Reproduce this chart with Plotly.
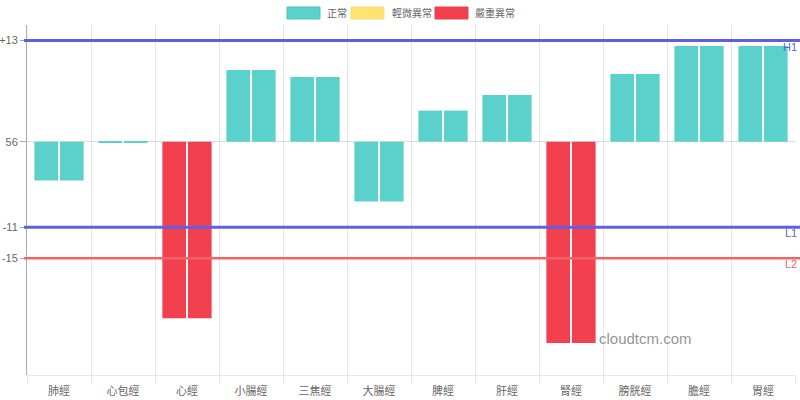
import plotly.graph_objects as go

categories = ["肺經", "心包經", "心經", "小腸經", "三焦經", "大腸經", "脾經", "肝經", "腎經", "膀胱經", "膽經", "胃經"]
left_values = [-5.0, -0.15, -22.7, 9.2, 8.3, -7.7, 4.0, 6.0, -25.9, 8.7, 12.3, 12.3]
right_values = [-5.0, -0.15, -22.7, 9.2, 8.3, -7.7, 4.0, 6.0, -25.9, 8.7, 12.3, 12.3]
status = ["正常", "正常", "嚴重異常", "正常", "正常", "正常", "正常", "正常", "嚴重異常", "正常", "正常", "正常"]
status_names = ["正常", "輕微異常", "嚴重異常"]
status_colors = {"正常": "#5AD2CB", "輕微異常": "#FFE36E", "嚴重異常": "#F3404E"}
status_borders = {"正常": "#4CC3BC", "輕微異常": "#F2DC8A", "嚴重異常": "#E8404E"}
tick_vals = [13, 0, -11, -15]
tick_text = ["+13", "56", "-11", "-15"]
ref_lines = [("H1", 13, "#5F5FE6", 3), ("L1", -11, "#5F5FE6", 3), ("L2", -15, "#F26464", 2.5)]

# plot area in pixels (for legend placement in paper coords)
PL, PR, PT, PB = 27, 795, 25, 375
def px_x(p):
    return (p - PL) / (PR - PL)
def px_y(p):
    return (PB - p) / (PB - PT)

colors = [status_colors[s] for s in status]
fig = go.Figure()
for vals, off in [(left_values, -0.385), (right_values, 0.015)]:
    fig.add_trace(go.Bar(x=categories, y=vals, marker=dict(color=colors, line=dict(width=0)),
                         width=0.37, offset=off, showlegend=False, hoverinfo="y"))

# custom legend (wide boxes like the reference)
legend_boxes = [(287, 320, 325), (351, 384, 390), (435, 468, 473)]
for name, (bx0, bx1, tx) in zip(status_names, legend_boxes):
    fig.add_shape(type="rect", xref="paper", yref="paper", x0=px_x(bx0), x1=px_x(bx1),
                  y0=px_y(19), y1=px_y(7), fillcolor=status_colors[name],
                  line=dict(color=status_borders[name], width=1))
    fig.add_annotation(xref="paper", yref="paper", x=px_x(tx), y=px_y(13), text=name,
                       showarrow=False, xanchor="left", yanchor="middle",
                       font=dict(size=10, color="#666"))

for name, val, col, w in ref_lines:
    fig.add_shape(type="line", xref="paper", yref="y", x0=px_x(24), x1=px_x(800), y0=val, y1=val,
                  line=dict(color=col, width=w))
    fig.add_annotation(xref="paper", yref="y", x=px_x(799), y=val, text=name, showarrow=False,
                       xanchor="right", yanchor="top", font=dict(size=11, color=col), yshift=2)

fig.add_annotation(xref="paper", yref="y", x=px_x(597), y=-25.3, text="cloudtcm.com", showarrow=False,
                   xanchor="left", yanchor="middle", font=dict(size=15, color="rgba(110,110,110,0.75)"))

fig.update_layout(
    width=800, height=400,
    margin=dict(l=PL, r=800 - PR, t=PT, b=400 - PB, autoexpand=False),
    paper_bgcolor="white", plot_bgcolor="white",
    barmode="overlay", showlegend=False,
    font=dict(family="Liberation Sans, Noto Sans CJK TC, sans-serif", size=12, color="#666"),
    xaxis=dict(type="category", tickson="boundaries", showgrid=True, gridcolor="#E6E6E6",
               ticks="outside", ticklen=8, tickcolor="#E6E6E6", showline=True, linecolor="#E6E6E6",
               tickfont=dict(size=11, color="#666"), range=[-0.5, 11.5], automargin=False,
               ticklabelstandoff=6),
    yaxis=dict(range=[-30, 15], tickvals=tick_vals, ticktext=tick_text, showgrid=False,
               zeroline=True, zerolinecolor="#DDDDDD", zerolinewidth=1,
               showline=True, linecolor="#AAAAAA", ticks="outside", ticklen=6, tickcolor="#AAAAAA",
               tickfont=dict(size=11, color="#666"), automargin=False),
)
fig.write_html("out.html", config={"displayModeBar": False},
               post_script="document.body.style.margin='0';")
